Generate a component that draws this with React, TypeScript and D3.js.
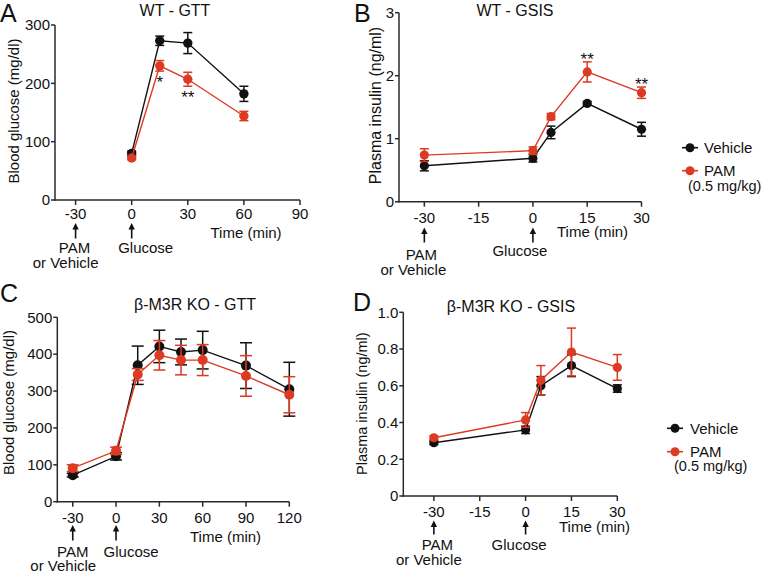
import React from "react";
import * as d3 from "d3";

// ---------- DATA ----------
const aTimes = [0, 15, 30, 60];
const aVehicle = [80, 273, 269, 182];
const aVehicleSem = [4, 8, 18, 13];
const aPam = [72, 230, 207, 144];
const aPamSem = [3, 9, 12, 8];
const aXTicks = [-30, 0, 30, 60, 90];
const aYTicks = [0, 100, 200, 300];
const aStars = [
  { t: 15, text: "*" },
  { t: 30, text: "**" },
];

const bTimes = [-30, 0, 5, 15, 30];
const bVehicle = [0.57, 0.69, 1.1, 1.56, 1.15];
const bVehicleSem = [0.08, 0.06, 0.1, 0.03, 0.11];
const bPam = [0.74, 0.81, 1.35, 2.06, 1.73];
const bPamSem = [0.1, 0.06, 0.05, 0.16, 0.09];
const bXTicks = [-30, -15, 0, 15, 30];
const bYTicks = [0, 1, 2, 3];
const bStars = [
  { t: 15, text: "**" },
  { t: 30, text: "**" },
];

const cTimes = [-30, 0, 15, 30, 45, 60, 90, 120];
const cVehicle = [72, 123, 370, 421, 406, 411, 369, 305];
const cVehicleSem = [5, 10, 52, 44, 35, 51, 62, 73];
const cPam = [91, 138, 345, 397, 384, 384, 341, 290];
const cPamSem = [9, 10, 16, 40, 40, 42, 55, 49];
const cXTicks = [-30, 0, 30, 60, 90, 120];
const cYTicks = [0, 100, 200, 300, 400, 500];

const dTimes = [-30, 0, 5, 15, 30];
const dVehicle = [0.29, 0.36, 0.6, 0.71, 0.585];
const dVehicleSem = [0.01, 0.02, 0.05, 0.06, 0.02];
const dPam = [0.317, 0.414, 0.63, 0.784, 0.7];
const dPamSem = [0.01, 0.04, 0.08, 0.13, 0.07];
const dXTicks = [-30, -15, 0, 15, 30];
const dYTicks = [0, 0.2, 0.4, 0.6, 0.8, 1.0];

const seriesNames = ["Vehicle", "PAM"];
const doseNote = "(0.5 mg/kg)";

// ---------- STYLE ----------
const FONT = "'Liberation Sans', Arial, Helvetica, sans-serif";
const BLACK = "#111111";
const RED = "#dc3a22";
const AXIS = "#2a2a2a";

type Star = { t: number; text: string };

type PanelProps = {
  letter: string;
  letterPos: [number, number];
  title: string;
  titlePos: [number, number];
  yLabel: string;
  yLabelPos: [number, number];
  yLabelSize: number;
  xDomain: [number, number];
  xRange: [number, number];
  yDomain: [number, number];
  yRange: [number, number];
  xTicks: number[];
  yTicks: number[];
  yFmt: (v: number) => string;
  times: number[];
  veh: number[];
  vehSem: number[];
  pam: number[];
  pamSem: number[];
  stars?: Star[];
  starsAbove?: boolean;
  r: number;
  cap: number;
  tickLabelY: number;
  arrowTop: number;
  arrowBottom: number;
  pamY: number;
  orVehY: number;
  pamDx: number;
  orVehDx: number;
  glucoseDx: number;
  glucoseY: number;
  timePos: [number, number];
};

function Panel(p: PanelProps) {
  const x = d3.scaleLinear().domain(p.xDomain).range(p.xRange);
  const y = d3.scaleLinear().domain(p.yDomain).range(p.yRange);
  const line = d3
    .line<[number, number]>()
    .x((d) => x(d[0]))
    .y((d) => y(d[1]));
  const x0 = p.xRange[0];
  const y0 = p.yRange[0];

  const series = [
    { vals: p.veh, sem: p.vehSem, color: BLACK },
    { vals: p.pam, sem: p.pamSem, color: RED },
  ];

  const arrow = (t: number) => {
    const cx = x(t);
    return (
      <g key={"arr" + t}>
        <line x1={cx} x2={cx} y1={p.arrowTop + 5} y2={p.arrowBottom} stroke={BLACK} strokeWidth={1.6} />
        <path d={`M${cx - 3.2},${p.arrowTop + 6.5} L${cx},${p.arrowTop} L${cx + 3.2},${p.arrowTop + 6.5} Z`} fill={BLACK} />
      </g>
    );
  };

  return (
    <g fontFamily={FONT}>
      <text x={p.letterPos[0]} y={p.letterPos[1]} fontSize={25} fill={BLACK}>
        {p.letter}
      </text>
      <text x={p.titlePos[0]} y={p.titlePos[1]} fontSize={16} textAnchor="middle" fill={BLACK}>
        {p.title}
      </text>
      <text
        transform={`translate(${p.yLabelPos[0]},${p.yLabelPos[1]}) rotate(-90)`}
        fontSize={p.yLabelSize}
        textAnchor="middle"
        dy="0.35em"
        fill={BLACK}
      >
        {p.yLabel}
      </text>

      {/* axes */}
      <line x1={x0} x2={x0} y1={p.yRange[1]} y2={y0 + 0.75} stroke={AXIS} strokeWidth={1.5} />
      <line x1={x0 - 0.75} x2={p.xRange[1]} y1={y0} y2={y0} stroke={AXIS} strokeWidth={1.5} />
      {p.yTicks.map((t) => (
        <g key={"yt" + t}>
          <line x1={x0 - 4} x2={x0} y1={y(t)} y2={y(t)} stroke={AXIS} strokeWidth={1.5} />
          <text x={x0 - 5} y={y(t)} dy="0.35em" fontSize={15} textAnchor="end" fill={BLACK}>
            {p.yFmt(t)}
          </text>
        </g>
      ))}
      {p.xTicks.map((t) => (
        <g key={"xt" + t}>
          <line x1={x(t)} x2={x(t)} y1={y0} y2={y0 + 5} stroke={AXIS} strokeWidth={1.5} />
          <text x={x(t)} y={p.tickLabelY} dy="0.35em" fontSize={15} textAnchor="middle" fill={BLACK}>
            {t}
          </text>
        </g>
      ))}

      {/* series */}
      {series.map((s, si) => {
        const pts: [number, number][] = p.times.map((t, i) => [t, s.vals[i]]);
        return (
          <g key={"s" + si}>
            <path d={line(pts) || ""} fill="none" stroke={s.color} strokeWidth={1.4} />
            {p.times.map((t, i) => {
              const cx = x(t);
              const yt = y(s.vals[i] + s.sem[i]);
              const yb = y(s.vals[i] - s.sem[i]);
              return (
                <g key={"e" + i} stroke={s.color} strokeWidth={1.5}>
                  <line x1={cx} x2={cx} y1={yt} y2={yb} />
                  <line x1={cx - p.cap} x2={cx + p.cap} y1={yt} y2={yt} />
                  <line x1={cx - p.cap} x2={cx + p.cap} y1={yb} y2={yb} />
                </g>
              );
            })}
            {p.times.map((t, i) => (
              <circle key={"c" + i} cx={x(t)} cy={y(s.vals[i])} r={p.r} fill={s.color} />
            ))}
          </g>
        );
      })}

      {/* significance */}
      {(p.stars || []).map((st) => {
        const i = p.times.indexOf(st.t);
        const cy = p.starsAbove
          ? y(p.pam[i] + p.pamSem[i]) - 6.5
          : y(p.pam[i] - p.pamSem[i]) + 7.5;
        return (
          <text key={"st" + st.t} x={x(st.t)} y={cy + 9.5} fontSize={17} textAnchor="middle" fill={BLACK}>
            {st.text}
          </text>
        );
      })}

      {/* annotations */}
      {arrow(-30)}
      {arrow(0)}
      <text x={x(-30) + p.pamDx} y={p.pamY} dy="0.35em" fontSize={15} textAnchor="middle" fill={BLACK}>
        PAM
      </text>
      <text x={x(-30) + p.orVehDx} y={p.orVehY} dy="0.35em" fontSize={15} textAnchor="middle" fill={BLACK}>
        or Vehicle
      </text>
      <text x={x(0) + p.glucoseDx} y={p.glucoseY} dy="0.35em" fontSize={15} textAnchor="start" fill={BLACK}>
        Glucose
      </text>
      <text x={p.timePos[0]} y={p.timePos[1]} dy="0.35em" fontSize={15} fill={BLACK}>
        Time (min)
      </text>
    </g>
  );
}

function Legend({ lx, vy, py, tx, nx, ny }: { lx: number; vy: number; py: number; tx: number; nx: number; ny: number }) {
  const items = [
    { name: seriesNames[0], color: BLACK, y: vy },
    { name: seriesNames[1], color: RED, y: py },
  ];
  return (
    <g fontFamily={FONT}>
      {items.map((it) => (
        <g key={it.name}>
          <line x1={lx - 8} x2={lx + 8} y1={it.y} y2={it.y} stroke={it.color} strokeWidth={1.6} />
          <circle cx={lx} cy={it.y} r={4.5} fill={it.color} />
          <text x={tx} y={it.y} dy="0.35em" fontSize={15} fill={BLACK}>
            {it.name}
          </text>
        </g>
      ))}
      <text x={nx} y={ny} dy="0.35em" fontSize={14.5} fill={BLACK}>
        {doseNote}
      </text>
    </g>
  );
}

export default function App() {
  const intFmt = (v: number) => String(v);
  const decFmt = (v: number) => (v === 0 ? "0" : v.toFixed(1));
  return (
    <svg width={762} height={574} style={{ position: "absolute", left: 0, top: 0, background: "#fff" }}>
      <rect width={762} height={574} fill="#fff" />
      <Panel
        letter="A"
        letterPos={[0, 22]}
        title="WT - GTT"
        titlePos={[175, 16]}
        yLabel="Blood glucose (mg/dl)"
        yLabelPos={[13.5, 111]}
        yLabelSize={15}
        xDomain={[-41, 90]}
        xRange={[55, 300]}
        yDomain={[0, 300]}
        yRange={[200, 25]}
        xTicks={aXTicks}
        yTicks={aYTicks}
        yFmt={intFmt}
        times={aTimes}
        veh={aVehicle}
        vehSem={aVehicleSem}
        pam={aPam}
        pamSem={aPamSem}
        stars={aStars}
        starsAbove={false}
        r={4.7}
        cap={4.5}
        tickLabelY={214}
        arrowTop={223}
        arrowBottom={238.5}
        pamY={248}
        orVehY={263}
        pamDx={-1}
        orVehDx={-10}
        glucoseDx={-13.5}
        glucoseY={248}
        timePos={[210.5, 233]}
      />
      <Panel
        letter="B"
        letterPos={[354, 22]}
        title="WT - GSIS"
        titlePos={[515, 16]}
        yLabel="Plasma insulin (ng/ml)"
        yLabelPos={[375, 105.5]}
        yLabelSize={16}
        xDomain={[-37, 30]}
        xRange={[399, 641.5]}
        yDomain={[0, 3]}
        yRange={[201.7, 12.7]}
        xTicks={bXTicks}
        yTicks={bYTicks}
        yFmt={intFmt}
        times={bTimes}
        veh={bVehicle}
        vehSem={bVehicleSem}
        pam={bPam}
        pamSem={bPamSem}
        stars={bStars}
        starsAbove={true}
        r={4.6}
        cap={4.5}
        tickLabelY={218}
        arrowTop={227.5}
        arrowBottom={242.5}
        pamY={255}
        orVehY={269.5}
        pamDx={-3}
        orVehDx={-11}
        glucoseDx={-40.5}
        glucoseY={251}
        timePos={[557, 232]}
      />
      <Legend lx={690} vy={147.7} py={170.7} tx={704} nx={688} ny={185.7} />
      <Panel
        letter="C"
        letterPos={[0, 302]}
        title="β-M3R KO - GTT"
        titlePos={[195, 310]}
        yLabel="Blood glucose (mg/dl)"
        yLabelPos={[8.5, 402.5]}
        yLabelSize={15}
        xDomain={[-40.7, 120]}
        xRange={[57.3, 289.3]}
        yDomain={[0, 500]}
        yRange={[501.7, 317.3]}
        xTicks={cXTicks}
        yTicks={cYTicks}
        yFmt={intFmt}
        times={cTimes}
        veh={cVehicle}
        vehSem={cVehicleSem}
        pam={cPam}
        pamSem={cPamSem}
        r={5}
        cap={6}
        tickLabelY={518}
        arrowTop={525}
        arrowBottom={540.5}
        pamY={551.7}
        orVehY={566}
        pamDx={0}
        orVehDx={-9.5}
        glucoseDx={-12.5}
        glucoseY={551.7}
        timePos={[190, 536.7]}
      />
      <Panel
        letter="D"
        letterPos={[353, 310.7]}
        title="β-M3R KO - GSIS"
        titlePos={[511, 312]}
        yLabel="Plasma insulin (ng/ml)"
        yLabelPos={[361.7, 403.7]}
        yLabelSize={14.5}
        xDomain={[-40, 30]}
        xRange={[403.3, 617.3]}
        yDomain={[0, 1]}
        yRange={[496, 312.3]}
        xTicks={dXTicks}
        yTicks={dYTicks}
        yFmt={decFmt}
        times={dTimes}
        veh={dVehicle}
        vehSem={dVehicleSem}
        pam={dPam}
        pamSem={dPamSem}
        r={4.6}
        cap={4.5}
        tickLabelY={511.7}
        arrowTop={520.5}
        arrowBottom={534.5}
        pamY={545}
        orVehY={559.3}
        pamDx={3.5}
        orVehDx={-5}
        glucoseDx={-34}
        glucoseY={545}
        timePos={[559, 527]}
      />
      <Legend lx={675} vy={428.3} py={451.7} tx={690} nx={674} ny={465.7} />
    </svg>
  );
}
